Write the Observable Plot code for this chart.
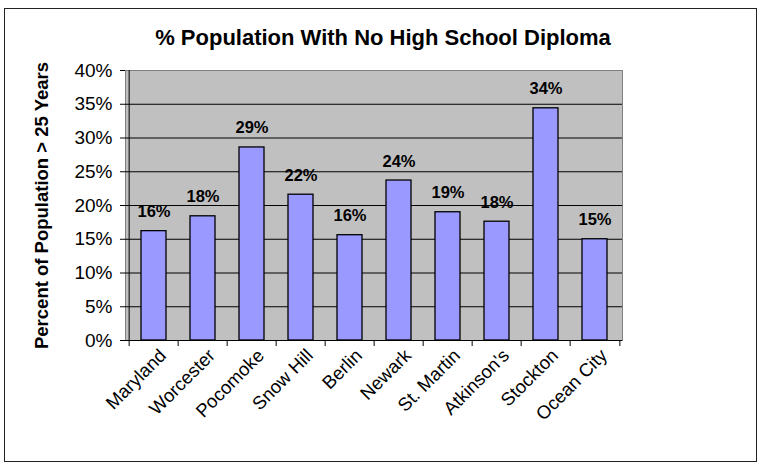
<!DOCTYPE html>
<html>
<head>
<meta charset="utf-8">
<script src="https://cdn.jsdelivr.net/npm/d3@7"></script>
<script src="https://cdn.jsdelivr.net/npm/@observablehq/plot@0.6"></script>
<style>
  html, body { margin: 0; padding: 0; background: #fff; }
  #wrap { position: relative; width: 762px; height: 467px; overflow: hidden; font-family: "Liberation Sans", Arial, sans-serif; }
  #border { position: absolute; left: 4px; top: 8px; width: 751px; height: 452px; border: 1.5px solid #222; }
  #title { position: absolute; left: 0; width: 766px; top: 25px; text-align: center; font-weight: bold; font-size: 22px; color: #000; }
  #chart { position: absolute; left: 0; top: 0; }
</style>
</head>
<body>
<div id="wrap">
  <div id="border"></div>
  <div id="title">% Population With No High School Diploma</div>
  <div id="chart"></div>
</div>
<script>
const places = ["Maryland", "Worcester", "Pocomoke", "Snow Hill", "Berlin", "Newark", "St. Martin", "Atkinson's", "Stockton", "Ocean City"];
const pctNoDiploma = [16.2, 18.4, 28.6, 21.6, 15.6, 23.7, 19.0, 17.6, 34.4, 15.0];
const yTicks = [0, 5, 10, 15, 20, 25, 30, 35, 40];
const yTitle = "Percent of Population > 25 Years";

const data = places.map((p, i) => ({name: p, value: pctNoDiploma[i]}));

const W = 762, H = 467, mL = 125, mR = 140, mT = 70, mB = 127;
const step = (W - mL - mR) / places.length;

const chart = Plot.plot({
  width: W, height: H,
  marginLeft: mL, marginRight: mR, marginTop: mT, marginBottom: mB,
  style: {background: "transparent", fontFamily: "Liberation Sans, Arial, sans-serif", color: "#000", overflow: "visible"},
  x: {domain: places, paddingInner: 0.5, paddingOuter: 0.25, label: null, axis: null},
  y: {domain: [0, 40], label: null, axis: null},
  marks: [
    Plot.frame({fill: "#C0C0C0", stroke: "#808080"}),
    Plot.ruleY(yTicks.filter(t => t < 40), {stroke: "#000", strokeWidth: 1}),
    Plot.ruleX([places[0]], {dx: -step / 2, stroke: "#000", strokeWidth: 1}),
    Plot.barY(data, {x: "name", y: "value", fill: "#9999FF", stroke: "#000", strokeWidth: 1.3}),
    Plot.text(data, {x: "name", y: "value", text: d => Math.round(d.value) + "%", lineAnchor: "bottom", dy: -14, fontWeight: "bold", fontSize: 16.5, fill: "#000"}),
    Plot.axisY({ticks: yTicks, tickFormat: d => d + "%", tickSize: 5, tickPadding: 8, fontSize: 19, label: null}),
    Plot.axisX({ticks: places, text: null, tickSize: 6, dx: -step / 2}),
    Plot.axisX({ticks: [places[places.length - 1]], text: null, tickSize: 6, dx: step / 2}),
    Plot.axisX({ticks: places, tickSize: 0, tickRotate: -45, fontSize: 18.5, tickPadding: 12, dx: 9, label: null}),
    Plot.text([yTitle], {frameAnchor: "left", rotate: -90, textAnchor: "middle", dx: -83, fontWeight: "bold", fontSize: 18.5, fill: "#000"})
  ]
});
document.getElementById("chart").appendChild(chart);
</script>
</body>
</html>
